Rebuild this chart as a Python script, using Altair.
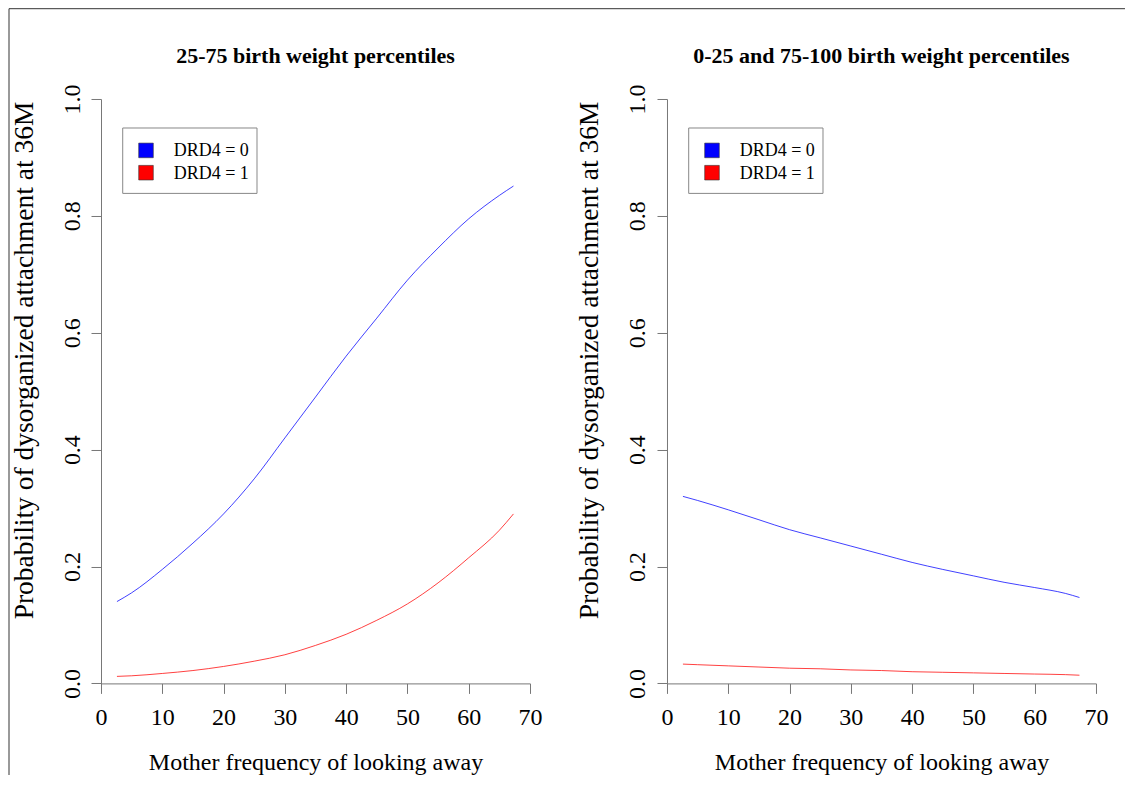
import altair as alt
import pandas as pd

# ---- data ----
x_vals = [2.6, 5, 10, 15, 20, 25, 30, 35, 40, 45, 50, 55, 60, 65, 67.3]
mid_drd0 = [0.14, 0.155, 0.195, 0.24, 0.29, 0.35, 0.42, 0.49, 0.56, 0.625, 0.69, 0.745, 0.795, 0.835, 0.851]
mid_drd1 = [0.012, 0.013, 0.017, 0.022, 0.029, 0.038, 0.049, 0.065, 0.084, 0.108, 0.136, 0.172, 0.215, 0.262, 0.29]
ext_drd0 = [0.32, 0.313, 0.297, 0.28, 0.263, 0.249, 0.235, 0.221, 0.207, 0.195, 0.184, 0.173, 0.164, 0.154, 0.147]
ext_drd1 = [0.033, 0.032, 0.030, 0.028, 0.026, 0.025, 0.023, 0.022, 0.020, 0.019, 0.018, 0.017, 0.016, 0.015, 0.014]
series_labels = ["DRD4 = 0", "DRD4 = 1"]
series_colors = ["#0000ff", "#ff0000"]
panel_titles = ["25-75 birth weight percentiles", "0-25 and 75-100 birth weight percentiles"]
x_ticks = [0, 10, 20, 30, 40, 50, 60, 70]
y_ticks = [0.0, 0.2, 0.4, 0.6, 0.8, 1.0]
x_title = "Mother frequency of looking away"
y_title = "Probability of dysorganized attachment at 36M"

FONT = "Liberation Serif"
W, H = 429, 584.4
ONE = pd.DataFrame({"k": [0]})


def make_df(y0, y1):
    rows = []
    for lab, ys in zip(series_labels, [y0, y1]):
        for x, y in zip(x_vals, ys):
            rows.append({"x": x, "y": y, "group": lab})
    return pd.DataFrame(rows)


def panel(title, y0, y1, frame=False):
    df = make_df(y0, y1)
    lines = alt.Chart(df).mark_line(strokeWidth=1, opacity=0.75, interpolate="monotone").encode(
        x=alt.X("x:Q",
                scale=alt.Scale(domain=[0, 70], nice=False, zero=False),
                axis=alt.Axis(values=x_ticks, title=x_title, tickSize=10,
                              labelPadding=31, labelBaseline="alphabetic",
                              labelFlush=False, labelOverlap=False,
                              titleY=86, titleBaseline="alphabetic", titleAlign="center")),
        y=alt.Y("y:Q",
                scale=alt.Scale(domain=[0, 1], nice=False),
                axis=alt.Axis(values=y_ticks, format=".1f", title=y_title, tickSize=10,
                              labelAngle=270, labelAlign="center", labelBaseline="alphabetic",
                              labelPadding=12, labelFlush=False, labelOverlap=False,
                              titleAngle=270, titleX=-69, titleY=261,
                              titleFontSize=27.5,
                              titleBaseline="alphabetic", titleAlign="center")),
        color=alt.Color("group:N",
                        scale=alt.Scale(domain=series_labels, range=series_colors),
                        legend=None),
    )
    title_mark = alt.Chart(ONE).mark_text(
        font=FONT, fontSize=22, fontWeight="bold", align="center",
        baseline="alphabetic", color="black"
    ).encode(x=alt.value(W / 2), y=alt.value(-36), text=alt.value(title))

    # legend box (drawn like R's legend())
    box = alt.Chart(ONE).mark_rect(fill="white", stroke="#888888", strokeWidth=1).encode(
        x=alt.value(21.7), x2=alt.value(156), y=alt.value(29), y2=alt.value(94.4))
    layers = [lines, title_mark, box]
    row_y = [51.4, 73.7]
    for lab, col, yy in zip(series_labels, series_colors, row_y):
        sq = alt.Chart(ONE).mark_square(
            filled=True, fill=col, stroke="#333333", strokeWidth=0.6, size=213, opacity=1
        ).encode(x=alt.value(45), y=alt.value(yy))
        tx = alt.Chart(ONE).mark_text(
            font=FONT, fontSize=18, align="left", baseline="middle", color="black"
        ).encode(x=alt.value(72.7), y=alt.value(yy + 1), text=alt.value(lab))
        layers += [sq, tx]

    if frame:
        top = alt.Chart(ONE).mark_rule(color="#333333", strokeWidth=1).encode(
            x=alt.value(-92), x2=alt.value(1024), y=alt.value(-90.3))
        left = alt.Chart(ONE).mark_rule(color="#333333", strokeWidth=1).encode(
            x=alt.value(-92), y=alt.value(-90.3), y2=alt.value(676))
        layers += [top, left]
    return alt.layer(*layers).properties(width=W, height=H)


left_panel = panel(panel_titles[0], mid_drd0, mid_drd1, frame=True)
right_panel = panel(panel_titles[1], ext_drd0, ext_drd1)

chart = alt.hconcat(left_panel, right_panel, spacing=137, bounds="flush").properties(
    padding={"left": 0, "top": 0, "right": 0, "bottom": 0},
    background="white",
).configure_view(stroke=None).configure_axis(
    domainColor="#777777", tickColor="#777777", domainWidth=1, tickWidth=1,
    grid=False, labelFont=FONT, titleFont=FONT, labelFontSize=24, titleFontSize=24,
    labelColor="black", titleColor="black", titleFontWeight="normal",
)

chart.save("out.html", embed_options={"renderer": "svg", "actions": False})
